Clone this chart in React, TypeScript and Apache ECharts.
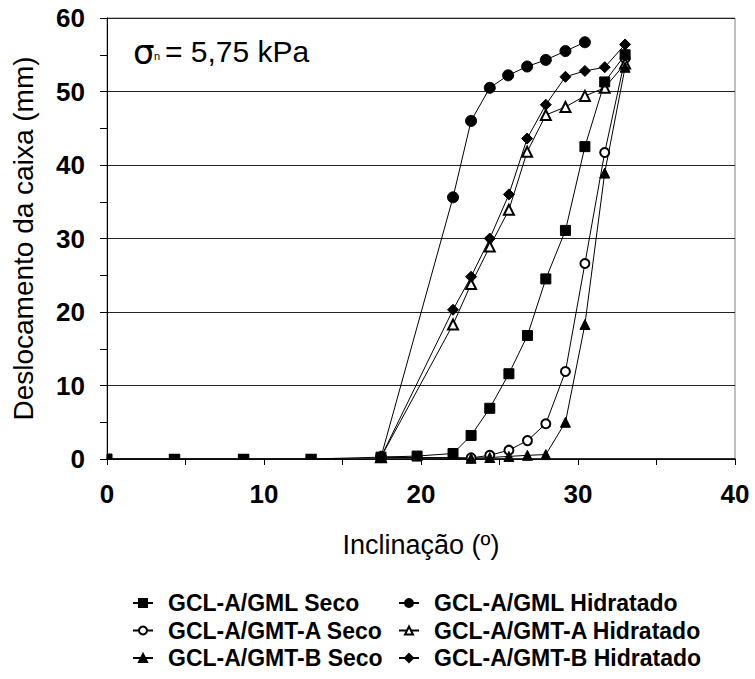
import { useEffect, useRef } from "react";
import * as echarts from "echarts";

// ---------- data ----------
const X_MIN = 0;
const X_MAX = 40;
const Y_MIN = 0;
const Y_MAX = 60;

const gmlSecoX = [0, 4.3, 8.7, 13.0, 17.45, 19.75, 22.04, 23.19, 24.38, 25.6, 26.78, 27.95, 29.2, 30.44, 31.7, 33.0];
const gmlSecoY = [0, 0, 0, 0, 0.25, 0.4, 0.75, 3.2, 6.9, 11.6, 16.8, 24.5, 31.1, 42.5, 51.3, 55.0];

const gmlHidX = [17.45, 22.04, 23.19, 24.38, 25.55, 26.76, 27.95, 29.2, 30.44];
const gmlHidY = [0.25, 35.6, 46.0, 50.5, 52.2, 53.4, 54.3, 55.5, 56.7];

const gmtASecoX = [17.45, 23.19, 24.38, 25.6, 26.78, 27.95, 29.2, 30.44, 31.7, 33.0];
const gmtASecoY = [0.25, 0.15, 0.5, 1.2, 2.5, 4.8, 11.9, 26.6, 41.7, 54.5];

const gmtAHidX = [17.45, 22.04, 23.19, 24.38, 25.6, 26.76, 27.95, 29.2, 30.44, 31.7, 33.0];
const gmtAHidY = [0.25, 18.3, 23.8, 28.9, 33.9, 41.8, 46.8, 47.9, 49.4, 50.5, 53.8];

const gmtBSecoX = [17.45, 23.19, 24.38, 25.6, 26.78, 27.95, 29.2, 30.44, 31.7, 33.0];
const gmtBSecoY = [0.25, 0.1, 0.2, 0.35, 0.5, 0.6, 5.0, 18.3, 38.9, 53.3];

const gmtBHidX = [17.45, 22.04, 23.19, 24.38, 25.6, 26.76, 27.95, 29.2, 30.44, 31.7, 33.0];
const gmtBHidY = [0.25, 20.3, 24.8, 30.0, 36.0, 43.6, 48.2, 52.0, 52.8, 53.3, 56.4];

const seriesNames = [
  "GCL-A/GML Seco",
  "GCL-A/GML Hidratado",
  "GCL-A/GMT-A Seco",
  "GCL-A/GMT-A Hidratado",
  "GCL-A/GMT-B Seco",
  "GCL-A/GMT-B Hidratado",
];

const xAxisTitle = "Inclinação (º)";
const yAxisTitle = "Deslocamento da caixa (mm)";

// ---------- helpers ----------
const FONT = "'Liberation Sans', Arial, sans-serif";

// emulate the clipping of square markers lying on the plot edges
function buildData(xs: number[], ys: number[], size: number, clipEdges: boolean) {
  return xs.map((x, i) => {
    const y = ys[i];
    if (!clipEdges) return [x, y];
    const w = x === X_MIN ? size / 2 : size;
    const h = y === Y_MIN ? size / 2 : size;
    if (w === size && h === size) return [x, y];
    return {
      value: [x, y],
      symbolSize: [w, h],
      symbolOffset: [(size - w) / 2, -(size - h) / 2],
    };
  });
}

function makeSeries(name: string, xs: number[], ys: number[], symbol: string, size: number, z: number, clip = false) {
  return {
    name,
    type: "line",
    data: buildData(xs, ys, size, clip),
    symbol,
    symbolSize: size,
    showSymbol: true,
    z,
    clip: true,
    lineStyle: { color: "#000", width: 1 },
    itemStyle: { color: "#000", borderColor: "#000", borderWidth: 1 },
    emphasis: { disabled: true },
  };
}

export default function App() {
  const ref = useRef<HTMLDivElement>(null);

  useEffect(() => {
    if (!ref.current) return;
    const chart = echarts.init(ref.current, undefined, { renderer: "svg" });

    const legendText = {
      fontSize: 23,
      fontWeight: "bold",
      fontFamily: FONT,
      color: "#000",
      lineHeight: 24,
      padding: [0, 0, 0, 10],
    };

    const legendCommon = {
      orient: "vertical",
      top: 591,
      height: 88,
      padding: 0,
      itemWidth: 20,
      itemHeight: 10,
      itemGap: 3.5,
      selectedMode: false,
      textStyle: legendText,
    };

    chart.setOption({
      animation: false,
      backgroundColor: "#fff",
      grid: {
        left: 107,
        right: 20,
        top: 18,
        bottom: 220,
        show: true,
        borderColor: "#808080",
        borderWidth: 1,
        backgroundColor: "transparent",
      },
      xAxis: {
        type: "value",
        min: X_MIN,
        max: X_MAX,
        interval: 10,
        name: xAxisTitle,
        nameLocation: "middle",
        nameGap: 72,
        nameTextStyle: { fontSize: 27, color: "#000", fontFamily: FONT },
        axisLine: { show: true, onZero: false, lineStyle: { color: "#000", width: 1.5 } },
        axisTick: { show: true, length: 6, lineStyle: { color: "#000" } },
        minorTick: { show: true, splitNumber: 2, length: 6, lineStyle: { color: "#000" } },
        axisLabel: { fontSize: 26, fontWeight: "bold", color: "#000", fontFamily: FONT, margin: 22 },
        splitLine: { show: false },
      },
      yAxis: {
        type: "value",
        min: Y_MIN,
        max: Y_MAX,
        interval: 10,
        name: yAxisTitle,
        nameLocation: "middle",
        nameGap: 70,
        nameTextStyle: { fontSize: 28, color: "#000", fontFamily: FONT },
        axisLine: { show: true, onZero: false, lineStyle: { color: "#000", width: 1 } },
        axisTick: { show: true, length: 7, lineStyle: { color: "#000" } },
        minorTick: { show: true, splitNumber: 2, length: 7, lineStyle: { color: "#000" } },
        axisLabel: { fontSize: 26, fontWeight: "bold", color: "#000", fontFamily: FONT, margin: 22 },
        splitLine: { show: true, lineStyle: { color: "#222", width: 1 } },
      },
      legend: [
        { ...legendCommon, left: 132, data: [seriesNames[0], seriesNames[2], seriesNames[4]] },
        { ...legendCommon, left: 398, data: [seriesNames[1], seriesNames[3], seriesNames[5]] },
      ],
      graphic: [
        {
          type: "text",
          x: 133,
          y: 52,
          style: { text: "σ", fontSize: 34, fontFamily: "'DejaVu Sans', sans-serif", fill: "#000", verticalAlign: "middle" },
        },
        {
          type: "text",
          x: 154,
          y: 56,
          style: { text: "n", fontSize: 11, fontFamily: FONT, fill: "#000", verticalAlign: "middle" },
        },
        {
          type: "text",
          x: 165,
          y: 51,
          style: { text: "= 5,75 kPa", fontSize: 30, fontFamily: FONT, fill: "#000", verticalAlign: "middle" },
        },
      ],
      series: [
        makeSeries(seriesNames[1], gmlHidX, gmlHidY, "circle", 11, 2),
        makeSeries(seriesNames[2], gmtASecoX, gmtASecoY, "emptyCircle", 9, 2),
        makeSeries(seriesNames[3], gmtAHidX, gmtAHidY, "emptyTriangle", 10, 2),
        makeSeries(seriesNames[4], gmtBSecoX, gmtBSecoY, "triangle", 10, 2),
        makeSeries(seriesNames[5], gmtBHidX, gmtBHidY, "diamond", 11, 2),
        makeSeries(seriesNames[0], gmlSecoX, gmlSecoY, "rect", 10, 3, true),
      ],
    });

    return () => chart.dispose();
  }, []);

  return (
    <div
      ref={ref}
      style={{ position: "absolute", left: 0, top: 0, width: 755, height: 679, background: "#fff" }}
    />
  );
}
